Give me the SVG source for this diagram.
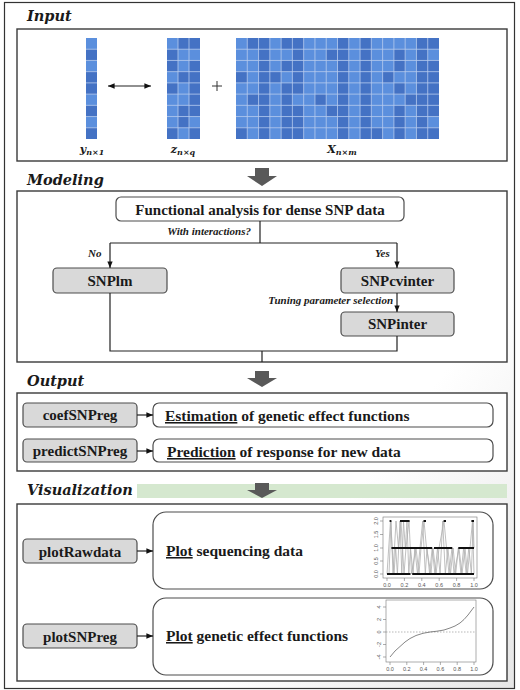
<svg xmlns="http://www.w3.org/2000/svg" width="520" height="690" viewBox="0 0 520 690">
<style>
.title{font-family:"DejaVu Serif",serif;font-weight:bold;font-style:italic;font-size:14.5px;fill:#1a1a1a}
.frame{fill:#fff;stroke:#3a3a3a;stroke-width:1.4}
.gbox{fill:#d9d9d9;stroke:#4d4d4d;stroke-width:1.2}
.wbox{fill:#fff;stroke:#4d4d4d;stroke-width:1.2}
.lbl{font-family:"Liberation Serif",serif;font-weight:bold;font-size:15px;fill:#1a1a1a;text-anchor:middle}
.desc{font-family:"Liberation Serif",serif;font-weight:bold;font-size:15.5px;fill:#1a1a1a}
.note{font-family:"Liberation Serif",serif;font-weight:bold;font-style:italic;font-size:11px;fill:#1a1a1a}
.math{font-family:"DejaVu Serif",serif;font-weight:bold;font-style:italic;fill:#1a1a1a}
.conn{fill:none;stroke:#222;stroke-width:1.2}
.big{fill:#595959}
.light{fill:#5b8fdd}
.dark{fill:#4472c4}
.grid{stroke:#b7cbee;stroke-width:0.8;fill:none}
.ax{fill:none;stroke:#777;stroke-width:0.6}
.tick{font-family:"Liberation Sans",sans-serif;font-size:5.5px;fill:#555;text-anchor:middle}
</style>
<defs>
<marker id="ah" viewBox="0 0 10 10" refX="10" refY="5" markerWidth="5.5" markerHeight="5.5" orient="auto-start-reverse"><path d="M0,1 L10,5 L0,9 Z" fill="#111"/></marker>
<linearGradient id="shade" x1="0" y1="0" x2="1" y2="1"><stop offset="0.7" stop-color="#fff"/><stop offset="1" stop-color="#e6e6e6"/></linearGradient>
</defs>
<rect x="0" y="0" width="520" height="690" fill="#fff"/>
<rect x="4.5" y="2.5" width="510" height="686" fill="url(#shade)" stroke="#333" stroke-width="1.2"/>

<!-- Input -->
<g id="input">
<text class="title" x="27" y="21">Input</text>
<rect class="frame" x="17" y="29" width="490" height="132"/>
<g id="yvec" transform="translate(86,38) scale(11,11.222)">
<rect class="light" x="0" y="0" width="1" height="9"/>
<g class="dark"><rect x="0" y="1" width="1" height="1"/><rect x="0" y="3" width="1" height="2"/><rect x="0" y="6" width="1" height="1"/><rect x="0" y="8" width="1" height="1"/></g>
<path class="grid" vector-effect="non-scaling-stroke" d="M0,1H1M0,2H1M0,3H1M0,4H1M0,5H1M0,6H1M0,7H1M0,8H1"/>
</g>
<g id="zmat" transform="translate(167,38) scale(11,11.222)">
<rect class="light" x="0" y="0" width="3" height="9"/>
<g class="dark">
<rect x="1" y="0" width="2" height="1"/>
<rect x="0" y="1" width="1" height="1"/>
<rect x="0" y="2" width="1" height="1"/><rect x="2" y="2" width="1" height="1"/>
<rect x="1" y="3" width="2" height="1"/>
<rect x="0" y="4" width="1" height="1"/><rect x="2" y="4" width="1" height="1"/>
<rect x="2" y="5" width="1" height="1"/>
<rect x="1" y="6" width="2" height="1"/>
<rect x="1" y="7" width="1" height="1"/>
<rect x="0" y="8" width="1" height="1"/><rect x="2" y="8" width="1" height="1"/>
</g>
<path class="grid" vector-effect="non-scaling-stroke" d="M1,0V9M2,0V9M0,1H3M0,2H3M0,3H3M0,4H3M0,5H3M0,6H3M0,7H3M0,8H3"/>
</g>
<g id="xmat" transform="translate(236,38) scale(11.278,11.222)">
<rect class="light" x="0" y="0" width="18" height="9"/>
<g class="dark">
<rect x="1" y="0" width="2" height="1"/><rect x="4" y="0" width="2" height="1"/><rect x="9" y="0" width="1" height="1"/><rect x="11" y="0" width="1" height="1"/><rect x="16" y="0" width="2" height="1"/>
<rect x="2" y="1" width="1" height="1"/><rect x="5" y="1" width="1" height="1"/><rect x="8" y="1" width="2" height="1"/><rect x="11" y="1" width="1" height="1"/><rect x="14" y="1" width="1" height="1"/><rect x="16" y="1" width="1" height="1"/>
<rect x="2" y="2" width="1" height="1"/><rect x="4" y="2" width="2" height="1"/><rect x="9" y="2" width="1" height="1"/><rect x="11" y="2" width="1" height="1"/><rect x="14" y="2" width="1" height="1"/><rect x="16" y="2" width="2" height="1"/>
<rect x="0" y="3" width="1" height="1"/><rect x="2" y="3" width="2" height="1"/><rect x="5" y="3" width="1" height="1"/><rect x="9" y="3" width="1" height="1"/><rect x="11" y="3" width="1" height="1"/><rect x="13" y="3" width="1" height="1"/><rect x="16" y="3" width="2" height="1"/>
<rect x="2" y="4" width="1" height="1"/><rect x="4" y="4" width="2" height="1"/><rect x="9" y="4" width="1" height="1"/><rect x="11" y="4" width="1" height="1"/><rect x="14" y="4" width="1" height="1"/><rect x="16" y="4" width="2" height="1"/>
<rect x="1" y="5" width="2" height="1"/><rect x="4" y="5" width="1" height="1"/><rect x="7" y="5" width="1" height="1"/><rect x="9" y="5" width="1" height="1"/><rect x="11" y="5" width="1" height="1"/><rect x="15" y="5" width="3" height="1"/>
<rect x="2" y="6" width="1" height="1"/><rect x="4" y="6" width="2" height="1"/><rect x="8" y="6" width="2" height="1"/><rect x="11" y="6" width="1" height="1"/><rect x="14" y="6" width="1" height="1"/><rect x="16" y="6" width="2" height="1"/>
<rect x="2" y="7" width="1" height="1"/><rect x="4" y="7" width="2" height="1"/><rect x="9" y="7" width="1" height="1"/><rect x="11" y="7" width="1" height="1"/><rect x="14" y="7" width="1" height="1"/><rect x="16" y="7" width="1" height="1"/>
<rect x="0" y="8" width="1" height="1"/><rect x="2" y="8" width="1" height="1"/><rect x="4" y="8" width="2" height="1"/><rect x="9" y="8" width="1" height="1"/><rect x="11" y="8" width="2" height="1"/><rect x="14" y="8" width="1" height="1"/><rect x="16" y="8" width="2" height="1"/>
</g>
<path class="grid" vector-effect="non-scaling-stroke" d="M1,0V9M2,0V9M3,0V9M4,0V9M5,0V9M6,0V9M7,0V9M8,0V9M9,0V9M10,0V9M11,0V9M12,0V9M13,0V9M14,0V9M15,0V9M16,0V9M17,0V9M0,1H18M0,2H18M0,3H18M0,4H18M0,5H18M0,6H18M0,7H18M0,8H18"/>
</g>
<text class="math" x="92" y="153" text-anchor="middle" font-size="11">y<tspan font-size="8" dy="1.5">n×1</tspan></text>
<text class="math" x="183" y="153" text-anchor="middle" font-size="11">z<tspan font-size="8" dy="1.5">n×q</tspan></text>
<text class="math" x="342" y="153" text-anchor="middle" font-size="11">X<tspan font-size="8" dy="1.5">n×m</tspan></text>
<path d="M212,86H222M217,81V91" stroke="#333" stroke-width="1" fill="none"/>
</g>

<!-- Modeling -->
<g id="modeling">
<text class="title" x="27" y="185">Modeling</text>
<rect class="frame" x="17" y="191" width="490" height="171"/>
</g>
<g id="n-functional"><rect class="wbox" x="116" y="197" width="288" height="24" rx="5"/><text class="lbl" x="260" y="214.5" font-size="15.5">Functional analysis for dense SNP data</text></g>
<g id="n-snplm"><rect class="gbox" x="53" y="268" width="114" height="25" rx="4"/><text class="lbl" x="110" y="285.5">SNPlm</text></g>
<g id="n-snpcvinter"><rect class="gbox" x="341" y="268" width="113" height="25" rx="4"/><text class="lbl" x="397.5" y="285.5">SNPcvinter</text></g>
<g id="n-snpinter"><rect class="gbox" x="341" y="312" width="113" height="24" rx="4"/><text class="lbl" x="397.5" y="329">SNPinter</text></g>
<text class="note" x="251" y="235" text-anchor="end">With interactions?</text>
<text class="note" x="88" y="257">No</text>
<text class="note" x="375" y="257">Yes</text>
<text class="note" x="393" y="304" text-anchor="end">Tuning parameter selection</text>

<!-- Output -->
<g id="output">
<text class="title" x="27" y="386">Output</text>
<rect class="frame" x="17" y="393" width="490" height="78"/>
</g>
<g id="n-coef"><rect class="gbox" x="23" y="403" width="114" height="24" rx="4"/><text class="lbl" x="80" y="420">coefSNPreg</text></g>
<g id="n-estim"><rect class="wbox" x="153" y="403" width="340" height="24" rx="6"/><text class="desc" x="165" y="421"><tspan text-decoration="underline">Estimation</tspan> of genetic effect functions</text></g>
<g id="n-predict"><rect class="gbox" x="23" y="439" width="114" height="23" rx="4"/><text class="lbl" x="80" y="456">predictSNPreg</text></g>
<g id="n-pred"><rect class="wbox" x="153" y="439" width="340" height="23" rx="6"/><text class="desc" x="167" y="457"><tspan text-decoration="underline">Prediction</tspan> of response for new data</text></g>

<!-- Visualization -->
<g id="visualization">
<rect x="137" y="484" width="370" height="14" fill="#d5e8cf"/>
<text class="title" x="27" y="495">Visualization</text>
<rect class="frame" x="17" y="504" width="490" height="177"/>
</g>
<g id="n-plotraw"><rect class="gbox" x="23" y="539" width="114" height="24" rx="4"/><text class="lbl" x="80" y="556.5">plotRawdata</text></g>
<g id="n-plotseq">
<rect class="wbox" x="153" y="512" width="340" height="77" rx="13"/>
<text class="desc" x="166" y="556" font-size="16"><tspan text-decoration="underline">Plot</tspan> sequencing data</text>
<rect class="ax" x="383" y="517" width="94" height="61"/>
<polyline fill="none" stroke="#b0b0b0" stroke-width="0.8" points="387,574 388.7,548 390.5,521 392.2,548 394,574 395.7,548 397.4,574 400,521 401.8,574 403.5,521 405.3,548 407,521 408.8,574 410.5,548 413.1,574 414.8,548 417.5,574 420,548 422.7,521 425.3,574 427,548 429.6,574 432.2,548 434.9,574 437.5,548 440.1,574 442.7,521 445.3,574 447.9,548 450.5,574 453.1,548 455.7,574 458.3,548 461,574 463.6,548 466.2,574 468.8,548 471.4,574 473.1,521 474,548"/>
<polyline fill="none" stroke="#b0b0b0" stroke-width="0.8" points="389,574 391,521 393,574 396,521 398.5,548 401,521 404,574 406,548 409,521 411.5,574 416,548 419,574 421,548 424,521 426.5,548 431,574 433,548 436,574 439,548 444,521 446.5,548 449,574 452,548 454,574 459,548 462,574 465,548 467.5,574 470,548 472.5,521 474,574"/>
<path fill="none" stroke="#111" stroke-width="2" d="M387,574H410.5M412.2,574H474M391.4,548H432.2M434,548H452.3M458.3,548H474M389.6,521H391.4M400,521H409.6M423.5,521H426M443.6,521H446M471.4,521H474"/>
<path class="ax" d="M387,578V581M404.4,578V581M421.8,578V581M439.2,578V581M456.6,578V581M474,578V581M383,574H380M383,561H380M383,548H380M383,534.5H380M383,521H380"/>
<g class="tick"><text x="387" y="587">0.0</text><text x="404.4" y="587">0.2</text><text x="421.8" y="587">0.4</text><text x="439.2" y="587">0.6</text><text x="456.6" y="587">0.8</text><text x="474" y="587">1.0</text>
<text transform="translate(378,574) rotate(-90)">0.0</text><text transform="translate(378,561) rotate(-90)">0.5</text><text transform="translate(378,548) rotate(-90)">1.0</text><text transform="translate(378,534.5) rotate(-90)">1.5</text><text transform="translate(378,521) rotate(-90)">2.0</text></g>
</g>
<g id="n-plotsnp"><rect class="gbox" x="23" y="624" width="114" height="24" rx="4"/><text class="lbl" x="80" y="641.5">plotSNPreg</text></g>
<g id="n-plotgen">
<rect class="wbox" x="153" y="598" width="340" height="77" rx="13"/>
<text class="desc" x="166" y="641" font-size="16"><tspan text-decoration="underline">Plot</tspan> genetic effect functions</text>
<rect class="ax" x="386" y="600" width="90" height="62"/>
<path d="M386,632H476" stroke="#888" stroke-width="0.6" stroke-dasharray="1.5,1.5" fill="none"/>
<polyline fill="none" stroke="#666" stroke-width="0.8" points="390,657 395,651 400,646.5 405,642 410,638.5 416,635.5 423,633.3 430,632 437,631.2 444,630 450,628 455,626 460,623 464,619.5 468,615 471,611 474,607"/>
<path class="ax" d="M390,662V665M406.8,662V665M423.6,662V665M440.4,662V665M457.2,662V665M474,662V665M386,657H383M386,644.5H383M386,632H383M386,619.5H383M386,607H383"/>
<g class="tick"><text x="390" y="671">0.0</text><text x="406.8" y="671">0.2</text><text x="423.6" y="671">0.4</text><text x="440.4" y="671">0.6</text><text x="457.2" y="671">0.8</text><text x="474" y="671">1.0</text>
<text transform="translate(381,657) rotate(-90)">-4</text><text transform="translate(381,644.5) rotate(-90)">-2</text><text transform="translate(381,632) rotate(-90)">0</text><text transform="translate(381,619.5) rotate(-90)">2</text><text transform="translate(381,607) rotate(-90)">4</text></g>
</g>

<!-- Connectors -->
<g id="connectors">
<line class="conn" x1="108" y1="86" x2="151" y2="86" marker-start="url(#ah)" marker-end="url(#ah)" stroke-width="1"/>
<path class="big" d="M255,168H269V176H277L262,186L247,176H255Z"/>
<path class="big" d="M255,371H269V378H277L262,387L247,378H255Z"/>
<path class="big" d="M255,483H269V490H277L262,498L247,490H255Z"/>
<path class="conn" d="M260,221V243M110,243H397"/>
<path class="conn" d="M110,243V268" marker-end="url(#ah)"/>
<path class="conn" d="M397,243V268" marker-end="url(#ah)"/>
<path class="conn" d="M397,293V312" marker-end="url(#ah)"/>
<path class="conn" d="M110,293V351H397V336M262,351V362"/>
<path class="conn" d="M137,415H153" marker-end="url(#ah)"/>
<path class="conn" d="M137,451H153" marker-end="url(#ah)"/>
<path class="conn" d="M137,551H153" marker-end="url(#ah)"/>
<path class="conn" d="M137,636H153" marker-end="url(#ah)"/>
</g>
</svg>
